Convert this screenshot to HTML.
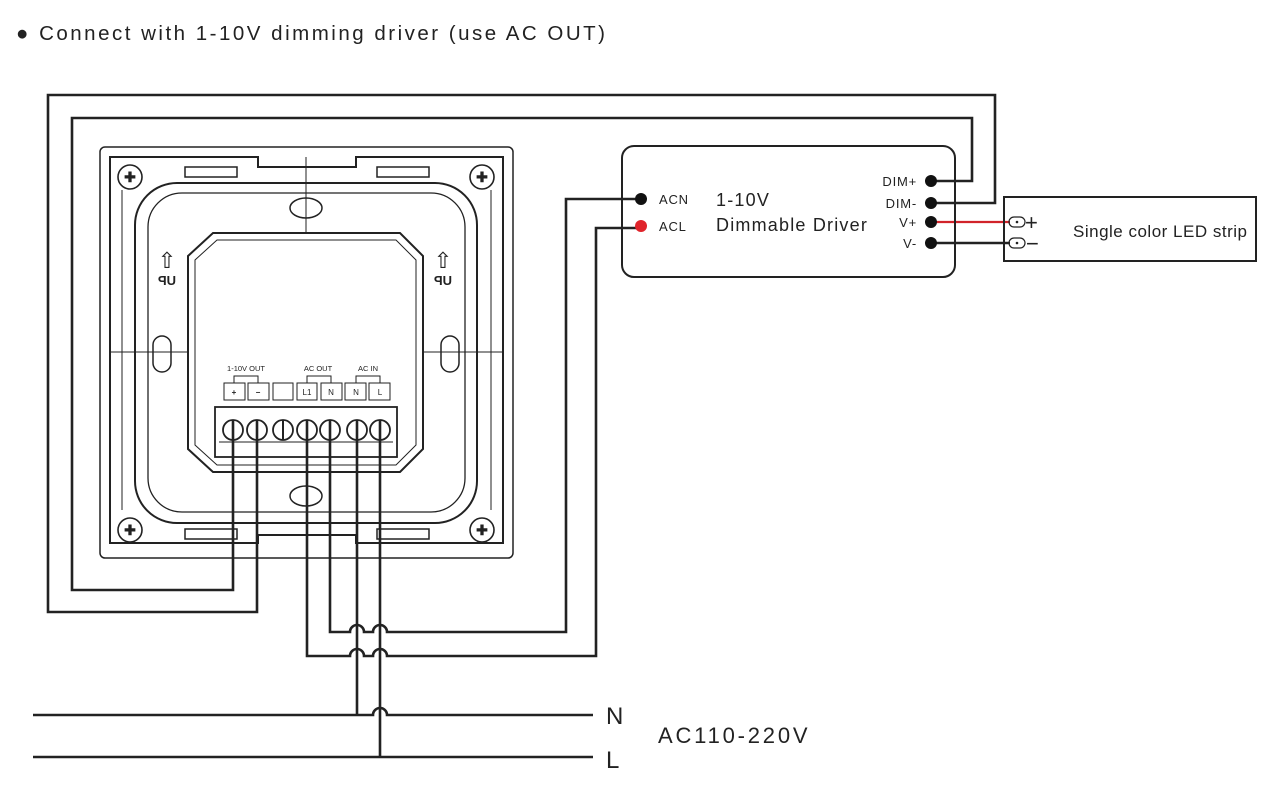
<!DOCTYPE html>
<html><head><meta charset="utf-8"><style>
html,body{margin:0;padding:0;background:#fff;}
svg{display:block;font-family:"Liberation Sans",sans-serif;}
</style></head><body>
<svg width="1281" height="797" viewBox="0 0 1281 797" xmlns="http://www.w3.org/2000/svg">
<text x="16" y="40" font-size="20.5" letter-spacing="2.5" fill="#222">● Connect with 1-10V dimming driver (use AC OUT)</text>

<!-- panel -->
<g fill="none" stroke="#222" stroke-width="1.5">
<rect x="100" y="147" width="413" height="411" rx="5"/>
<path d="M110 157 H258 V167 H356 V157 H503 V543 H356 V535 H258 V543 H110 Z" stroke-width="2"/>
<line x1="306" y1="157" x2="306" y2="232" stroke-width="1"/>
<line x1="110" y1="352" x2="188" y2="352" stroke-width="1"/>
<line x1="423" y1="352" x2="503" y2="352" stroke-width="1"/>
<line x1="122" y1="190" x2="122" y2="510" stroke-width="1"/>
<line x1="491" y1="190" x2="491" y2="510" stroke-width="1"/>
<rect x="135" y="183" width="342" height="340" rx="42" stroke-width="2"/>
<rect x="148" y="193" width="317" height="319" rx="34" stroke-width="1.3"/>
<path d="M213 233 H400 L423 256 V449 L400 472 H213 L188 449 V256 Z" stroke-width="2"/>
<path d="M217 240 H396 L416 260 V445 L396 465 H217 L195 445 V260 Z" stroke-width="1"/>
<rect x="185" y="167" width="52" height="10"/><rect x="377" y="167" width="52" height="10"/>
<rect x="185" y="529" width="52" height="10"/><rect x="377" y="529" width="52" height="10"/>
<ellipse cx="306" cy="208" rx="16" ry="10"/><ellipse cx="306" cy="496" rx="16" ry="10"/>
<rect x="153" y="336" width="18" height="36" rx="9"/><rect x="441" y="336" width="18" height="36" rx="9"/>
</g>
<g fill="none" stroke="#222" stroke-width="1.6">
<circle cx="130" cy="177" r="12"/><circle cx="482" cy="177" r="12"/>
<circle cx="130" cy="530" r="12"/><circle cx="482" cy="530" r="12"/>
</g>
<g font-size="14" text-anchor="middle" fill="#222" font-weight="bold">
<text x="130" y="182">✚</text><text x="482" y="182">✚</text><text x="130" y="535">✚</text><text x="482" y="535">✚</text>
</g>
<g font-size="22" text-anchor="middle" fill="#222">
<text x="167" y="268">⇧</text><text x="443" y="268">⇧</text>
</g>
<g font-size="13" font-weight="bold" fill="#222" text-anchor="middle">
<text x="167" y="285" transform="translate(334,0) scale(-1,1)">UP</text>
<text x="443" y="285" transform="translate(886,0) scale(-1,1)">UP</text>
</g>
<g font-size="7.5" fill="#222" text-anchor="middle">
<text x="246" y="371">1-10V OUT</text><text x="318" y="371">AC OUT</text><text x="368" y="371">AC IN</text>
</g>
<g fill="none" stroke="#222" stroke-width="1">
<path d="M234 383 V376 H258 V383"/><path d="M307 383 V376 H331 V383"/><path d="M356 383 V376 H380 V383"/>
<rect x="224" y="383" width="21" height="17"/><rect x="248" y="383" width="21" height="17"/>
<rect x="273" y="383" width="20" height="17"/><rect x="297" y="383" width="20" height="17"/>
<rect x="321" y="383" width="21" height="17"/><rect x="345" y="383" width="21" height="17"/>
<rect x="369" y="383" width="21" height="17"/>
</g>
<g font-size="8" fill="#222" text-anchor="middle">
<text x="234" y="395" font-weight="bold">+</text><text x="258" y="395" font-weight="bold">−</text>
<text x="307" y="395">L1</text><text x="331" y="395">N</text><text x="356" y="395">N</text><text x="380" y="395">L</text>
</g>
<g fill="#fff" stroke="#222" stroke-width="1.8">
<rect x="215" y="407" width="182" height="50"/>
<line x1="219" y1="442" x2="393" y2="442" stroke-width="1"/>
<circle cx="233" cy="430" r="10"/><circle cx="257" cy="430" r="10"/><circle cx="283" cy="430" r="10"/>
<circle cx="307" cy="430" r="10"/><circle cx="330" cy="430" r="10"/><circle cx="357" cy="430" r="10"/><circle cx="380" cy="430" r="10"/>
</g>
<line x1="283" y1="420" x2="283" y2="440" stroke="#222" stroke-width="2"/>

<!-- wires -->
<g fill="none" stroke="#222" stroke-width="2.6">
<path d="M233 420 V590 H72 V118 H972 V181 H931"/>
<path d="M257 420 V612 H48 V95 H995 V203 H931"/>
<path d="M307 420 V656 H350 a7 7 0 0 1 14 0 H373 a7 7 0 0 1 14 0 H596 V228 H641"/>
<path d="M330 420 V632 H350 a7 7 0 0 1 14 0 H373 a7 7 0 0 1 14 0 H566 V199 H641"/>
<path d="M357 420 V715"/>
<path d="M380 420 V757"/>
<path d="M33 715 H373 a7 7 0 0 1 14 0 H593"/>
<path d="M33 757 H593"/>
<path d="M931 243 H1010"/>
</g>
<path d="M931 222 H1010" stroke="#d1232a" stroke-width="2.2"/>

<!-- driver -->
<rect x="622" y="146" width="333" height="131" rx="12" fill="none" stroke="#222" stroke-width="2"/>
<g fill="#111"><circle cx="931" cy="181" r="6"/><circle cx="931" cy="203" r="6"/><circle cx="931" cy="222" r="6"/><circle cx="931" cy="243" r="6"/><circle cx="641" cy="199" r="6"/></g>
<circle cx="641" cy="226" r="6" fill="#e0242b"/>
<g font-size="13" fill="#222" letter-spacing="0.8">
<text x="917" y="186" text-anchor="end">DIM+</text><text x="917" y="208" text-anchor="end">DIM-</text>
<text x="917" y="227" text-anchor="end">V+</text><text x="917" y="248" text-anchor="end">V-</text>
<text x="659" y="204">ACN</text><text x="659" y="231">ACL</text>
</g>
<g font-size="18" fill="#222" letter-spacing="1.2"><text x="716" y="206">1-10V</text><text x="716" y="231">Dimmable Driver</text></g>

<!-- LED -->
<rect x="1004" y="197" width="252" height="64" fill="none" stroke="#222" stroke-width="2"/>
<g fill="none" stroke="#222" stroke-width="1.2"><rect x="1009" y="217" width="16" height="10" rx="5"/><rect x="1009" y="238" width="16" height="10" rx="5"/></g>
<circle cx="1017" cy="222" r="1.3" fill="#222"/><circle cx="1017" cy="243" r="1.3" fill="#222"/>
<g font-size="22" fill="#222"><text x="1025" y="230">+</text><text x="1026" y="251">−</text></g>
<text x="1073" y="237" font-size="17" fill="#222" letter-spacing="0.5">Single color LED strip</text>

<g font-size="24" fill="#222"><text x="606" y="724">N</text><text x="606" y="768">L</text></g>
<text x="658" y="743" font-size="22" fill="#222" letter-spacing="2.8">AC110-220V</text>
</svg>
</body></html>
